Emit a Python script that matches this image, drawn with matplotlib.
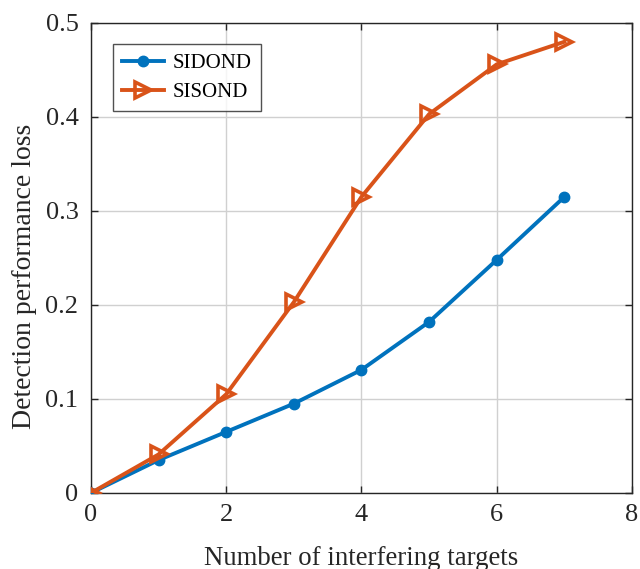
import matplotlib
matplotlib.use("Agg")
import matplotlib.pyplot as plt

# Number of interfering targets and detection performance loss
targets = [0, 1, 2, 3, 4, 5, 6, 7]
sidond_loss = [0.0, 0.035, 0.065, 0.095, 0.131, 0.182, 0.248, 0.315]
sisond_loss = [0.0, 0.041, 0.105, 0.203, 0.315, 0.403, 0.456, 0.480]

x_ticks = [0, 2, 4, 6, 8]
y_ticks = [0, 0.1, 0.2, 0.3, 0.4, 0.5]
y_tick_labels = ["0", "0.1", "0.2", "0.3", "0.4", "0.5"]

plt.rcParams["font.family"] = ["Liberation Serif", "DejaVu Serif"]

fig = plt.figure(figsize=(6.4, 5.69), dpi=100)
ax = fig.add_axes([0.142, 0.1336, 0.8455, 0.826])

blue = "#0072BD"
orange = "#D95319"

ax.plot(targets, sidond_loss, color=blue, lw=2.8, marker="o", ms=7.5,
        markerfacecolor=blue, markeredgecolor=blue, label="SIDOND", zorder=3)
ax.plot(targets, sisond_loss, color=orange, lw=2.8, marker=">", ms=12,
        markerfacecolor="none", markeredgecolor=orange, markeredgewidth=2.6,
        label="SISOND", zorder=3)

ax.set_xlim(0, 8)
ax.set_ylim(0, 0.5)
ax.set_xticks(x_ticks)
ax.set_yticks(y_ticks)
ax.set_yticklabels(y_tick_labels)

ax.grid(True, color="#d0d0d0", lw=1.0)
ax.set_axisbelow(True)
for s in ax.spines.values():
    s.set_color("#262626")
    s.set_linewidth(1.0)

ax.tick_params(direction="in", top=True, right=True, length=5, width=1.0,
               labelsize=19, colors="#262626")
ax.tick_params(axis="y", pad=9)
ax.tick_params(axis="x", pad=8)

ax.set_xlabel("Number of interfering targets", fontsize=19.3, color="#262626", labelpad=14)
ax.set_ylabel("Detection performance loss", fontsize=20, color="#262626",
              labelpad=6, y=0.46)

leg = ax.legend(loc="upper left", bbox_to_anchor=(0.04, 0.955), fontsize=15,
                frameon=True, fancybox=False, edgecolor="#262626",
                handlelength=2.0, handletextpad=0.45, borderpad=0.45,
                labelspacing=0.45, borderaxespad=0)
leg.get_frame().set_linewidth(1.0)

fig.savefig("out.png", dpi=100)
